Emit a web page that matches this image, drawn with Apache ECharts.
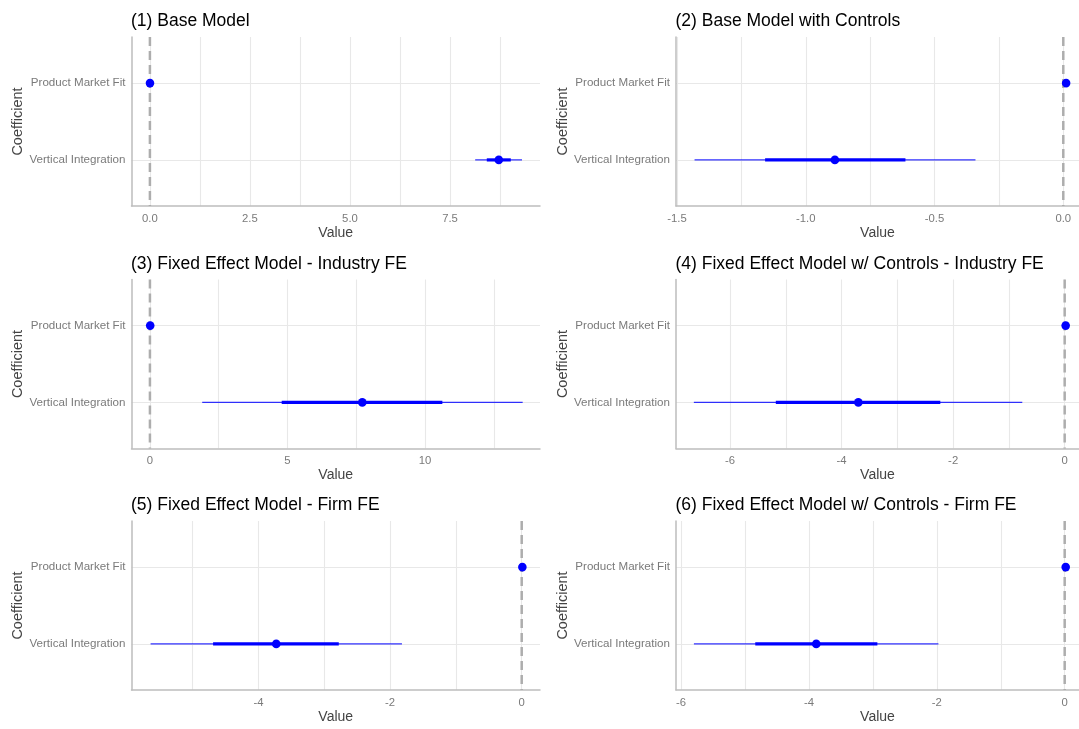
<!DOCTYPE html>
<html>
<head>
<meta charset="utf-8">
<script src="https://cdn.jsdelivr.net/npm/echarts@6/dist/echarts.min.js"></script>
<style>
html,body{margin:0;padding:0;background:#fff;}
#chart{width:1079px;height:729px;}
</style>
</head>
<body>
<div id="chart"></div>
<script>
// ---- data ----
const coefficients = ['Vertical Integration', 'Product Market Fit']; // y = 1, 2
const coefPositions = [1, 2];
const panelTitles = [
  '(1) Base Model',
  '(2) Base Model with Controls',
  '(3) Fixed Effect Model - Industry FE',
  '(4) Fixed Effect Model w/ Controls - Industry FE',
  '(5) Fixed Effect Model - Firm FE',
  '(6) Fixed Effect Model w/ Controls - Firm FE'
];
// Vertical Integration
const viEstimate  = [8.72, -0.887, 7.72, -3.70, -3.73, -3.886];
const viOuterLow  = [8.13, -1.432, 1.90, -6.65, -5.64, -5.80];
const viOuterHigh = [9.30, -0.341, 13.55, -0.76, -1.82, -1.975];
const viInnerLow  = [8.42, -1.158, 4.79, -5.18, -4.69, -4.84];
const viInnerHigh = [9.02, -0.613, 10.63, -2.23, -2.78, -2.93];
// Product Market Fit
const pmfEstimate  = [0.002, 0.011, 0.010, 0.018, 0.010, 0.016];
const pmfOuterLow  = [0.000, 0.009, 0.006, 0.014, 0.007, 0.013];
const pmfOuterHigh = [0.004, 0.013, 0.014, 0.022, 0.013, 0.019];
const pmfInnerLow  = [0.001, 0.010, 0.008, 0.016, 0.008, 0.014];
const pmfInnerHigh = [0.003, 0.012, 0.012, 0.020, 0.012, 0.018];
// axes
const xMin = [-0.46, -1.504, -0.67, -6.97, -5.93, -6.08];
const xMax = [9.75, 0.061, 14.18, 0.257, 0.278, 0.224];
const xTickValues = [[0, 2.5, 5, 7.5], [-1.5, -1, -0.5, 0], [0, 5, 10], [-6, -4, -2, 0], [-4, -2, 0], [-6, -4, -2, 0]];
const xTickLabels = [['0.0', '2.5', '5.0', '7.5'], ['-1.5', '-1.0', '-0.5', '0.0'], ['0', '5', '10'], ['-6', '-4', '-2', '0'], ['-4', '-2', '0'], ['-6', '-4', '-2', '0']];
const xMinorValues = [[1.25, 3.75, 6.25, 8.75], [-1.25, -0.75, -0.25], [2.5, 7.5, 12.5], [-5, -3, -1], [-5, -3, -1], [-5, -3, -1]];
const referenceValue = 0;

// ---- layout ----
const FONT = "'Liberation Sans', Arial, Helvetica, sans-serif";
const colLeft = [131.5, 676];
const colRight = [1079 - 540, 0];
const rowTop = [37, 279.5, 521];
const plotH = 169;
const gridLine = '#e8e8e8';
const axisLineColor = '#bdbdbd';

const grids = [], xAxes = [], yAxes = [], series = [], titles = [];
for (let i = 0; i < 6; i++) {
  const col = i % 2, row = Math.floor(i / 2);
  grids.push({left: colLeft[col], right: colRight[col], top: rowTop[row], height: plotH, containLabel: false});
  titles.push({
    text: panelTitles[i], left: colLeft[col] - 0.5, top: rowTop[row] - 24.5, padding: 0,
    textStyle: {fontFamily: FONT, fontSize: 17.5, fontWeight: 'normal', color: '#000'}
  });
  const allX = xTickValues[i].concat(xMinorValues[i]).sort((a, b) => a - b);
  xAxes.push({
    type: 'value', gridIndex: i, min: xMin[i], max: xMax[i],
    name: 'Value', nameLocation: 'middle', nameGap: 20,
    nameTextStyle: {fontFamily: FONT, fontSize: 14, color: '#444'},
    axisLine: {show: true, onZero: false, lineStyle: {color: axisLineColor, width: 1.5}},
    axisTick: {show: false, customValues: allX},
    splitLine: {show: true, lineStyle: {color: gridLine, width: 1.1}},
    axisLabel: {
      customValues: xTickValues[i], margin: 7, fontFamily: FONT, fontSize: 11.3, color: '#7a7a7a',
      formatter: (v) => {
        const k = xTickValues[i].findIndex(t => Math.abs(t - v) < 1e-9);
        return k >= 0 ? xTickLabels[i][k] : '';
      }
    }
  });
  yAxes.push({
    type: 'value', gridIndex: i, min: 0.4, max: 2.6,
    name: 'Coefficient', nameLocation: 'middle', nameGap: 106, nameRotate: 90,
    nameTextStyle: {fontFamily: FONT, fontSize: 14.5, color: '#444'},
    axisLine: {show: true, onZero: false, lineStyle: {color: axisLineColor, width: 1.5}},
    axisTick: {show: false, customValues: coefPositions},
    splitLine: {show: true, lineStyle: {color: gridLine, width: 1.1}},
    axisLabel: {
      customValues: coefPositions, margin: 6, fontFamily: FONT, fontSize: 11.6, color: '#7a7a7a',
      formatter: (v) => {
        const k = coefPositions.findIndex(t => Math.abs(t - v) < 1e-9);
        return k >= 0 ? coefficients[k] : '';
      }
    }
  });
  // dashed reference line at zero
  series.push({
    type: 'line', xAxisIndex: i, yAxisIndex: i, z: 1,
    data: [[referenceValue, 2.6], [referenceValue, 0.4]],
    symbol: 'none', silent: true, animation: false,
    lineStyle: {color: '#adadad', width: 2.5, type: [9, 5]}
  });
  // coefficient intervals and estimates
  series.push({
    type: 'custom', xAxisIndex: i, yAxisIndex: i, z: 3, animation: false,
    dimensions: ['est', 'pos', 'olo', 'ohi', 'ilo', 'ihi'],
    encode: {x: [0, 2, 3, 4, 5], y: 1},
    data: [
      [viEstimate[i], coefPositions[0], viOuterLow[i], viOuterHigh[i], viInnerLow[i], viInnerHigh[i]],
      [pmfEstimate[i], coefPositions[1], pmfOuterLow[i], pmfOuterHigh[i], pmfInnerLow[i], pmfInnerHigh[i]]
    ],
    renderItem: function (params, api) {
      const y = api.value(1);
      const c = api.coord([api.value(0), y]);
      const o0 = api.coord([api.value(2), y]), o1 = api.coord([api.value(3), y]);
      const n0 = api.coord([api.value(4), y]), n1 = api.coord([api.value(5), y]);
      return {
        type: 'group',
        children: [
          {type: 'line', shape: {x1: o0[0], y1: o0[1], x2: o1[0], y2: o1[1]}, style: {stroke: '#0000ff', lineWidth: 1.4, opacity: 0.8}},
          {type: 'line', shape: {x1: n0[0], y1: n0[1], x2: n1[0], y2: n1[1]}, style: {stroke: '#0000ff', lineWidth: 3.2}},
          {type: 'circle', shape: {cx: c[0], cy: c[1], r: 4.3}, style: {fill: '#0000ff'}}
        ]
      };
    }
  });
}

const chart = echarts.init(document.getElementById('chart'), null, {renderer: 'canvas'});
chart.setOption({
  backgroundColor: '#ffffff',
  animation: false,
  title: titles,
  grid: grids,
  xAxis: xAxes,
  yAxis: yAxes,
  series: series
});
</script>
</body>
</html>
